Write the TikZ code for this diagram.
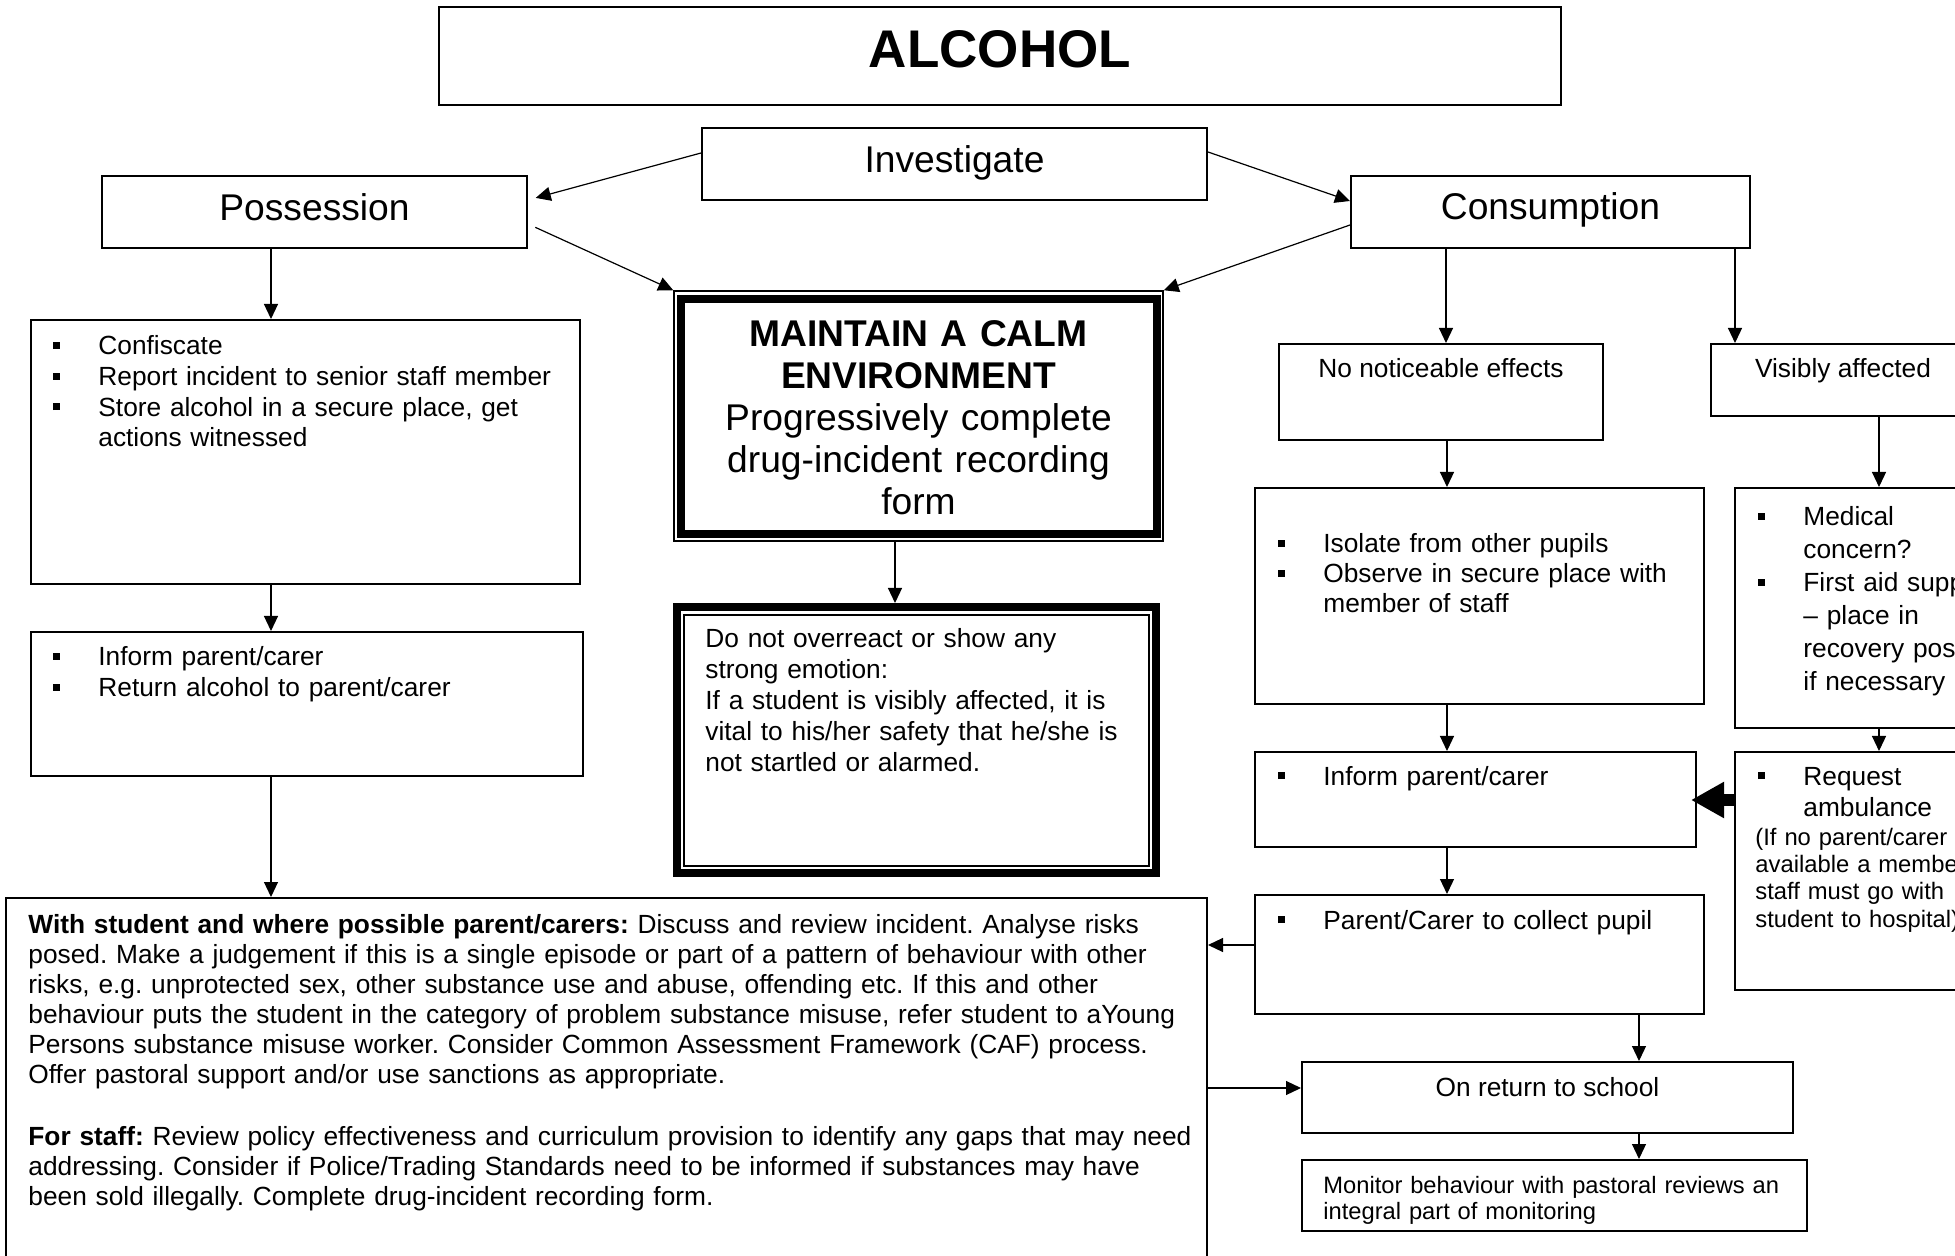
\documentclass[tikz,border=0pt]{standalone}
\usepackage{fontspec}
\setmainfont{Liberation Sans}
\usetikzlibrary{arrows.meta,fit}
\frenchspacing
\newcommand{\fsz}[2]{\fontsize{#1}{#2}\selectfont}
\newcommand{\blt}{\makebox[22.5pt][l]{\rule[3pt]{3.5pt}{3.5pt}}}
\newcommand{\bltind}{\hspace*{22.5pt}}
\begin{document}
\begin{tikzpicture}[x=0.5pt,y=-0.5pt,
	box/.style={draw,line width=1pt,inner sep=0pt},
	arr/.style={line width=0.6pt,-{Triangle[length=7.5pt,width=7pt]}},
	hd/.style={inner sep=0pt,anchor=base,font=\fsz{18.6}{21}},
	sh/.style={inner sep=0pt,anchor=base,font=\fsz{13.15}{15.3}},
	sm/.style={inner sep=0pt,anchor=base west,align=left,text width=700pt,font=\fsz{13.15}{15.3}}]
	\useasboundingbox (0,0) rectangle (1955,1256);
	\clip (0,0) rectangle (1955,1256);
	% boxes
	\node[box,fit={(439,7) (1561,105)}] (title) {};
	\node[box,fit={(702,128) (1207,200)}] (inv) {};
	\node[box,fit={(102,176) (527,248)}] (poss) {};
	\node[box,fit={(1351,176) (1750,248)}] (cons) {};
	\node[box,fit={(31,320) (580,584)}] (conf) {};
	\node[box,fit={(31,632) (583,776)}] (tellL) {};
	\node[box,fit={(6,898) (1207,1300)}] (review) {};
	\node[box,line width=0.75pt,fit={(674,291) (1163,541)}] (calm) {};
	\node[box,line width=4pt,fit={(677,607) (1156,873)}] (calmnote) {};
	\node[box,fit={(1279,344) (1603,440)}] (noeff) {};
	\node[box,fit={(1711,344) (1985,416)}] (vis) {};
	\node[box,fit={(1255,488) (1704,704)}] (isol) {};
	\node[box,fit={(1735,488) (1995,728)}] (med) {};
	\node[box,fit={(1255,752) (1696,847)}] (tellR) {};
	\node[box,fit={(1735,752) (1995,990)}] (amb) {};
	\node[box,fit={(1255,895) (1704,1014)}] (collect) {};
	\node[box,fit={(1302,1062) (1793,1133)}] (ret) {};
	\node[box,fit={(1302,1160) (1807,1231)}] (mon) {};
	\draw[line width=4pt] ([shift={(8,9)}]calm.north west) rectangle ([shift={(-7,-8)}]calm.south east);
	\draw[line width=0.75pt] ([shift={(11,12)}]calmnote.north west) rectangle ([shift={(-11,-11)}]calmnote.south east);
	% texts
	\node[inner sep=0pt,anchor=base,font=\fsz{26.5}{30}\bfseries] (titlet) at (1000,68) {ALCOHOL};
	\node[hd] (invt) at (954.5,173) {Investigate};
	\node[hd] (posst) at (314.5,221) {Possession};
	\node[hd] (const) at (1550.5,220) {Consumption};
	\node[hd,text width=240pt,align=center] (calmt) at (918.5,347) {\textbf{MAINTAIN A CALM}\\\textbf{ENVIRONMENT}\\Progressively complete\\drug-incident recording\\form};
	\node[sm] (conft) at (53,355) {\blt Confiscate\\\blt Report incident to senior staff member\\\blt Store alcohol in a secure place, get\\\bltind actions witnessed};
	\node[sm,font=\fsz{13.15}{15.5}] (tellLt) at (53,666) {\blt Inform parent/carer\\\blt Return alcohol to parent/carer};
	\node[sm,font=\fsz{13.15}{15.5}] (calmnotet) at (705,648) {Do not overreact or show any\\strong emotion:\\If a student is visibly affected, it is\\vital to his/her safety that he/she is\\not startled or alarmed.};
	\node[sm,font=\fsz{13.15}{15}] (reviewt) at (28,933) {\textbf{With student and where possible parent/carers:} Discuss and review incident. Analyse risks\\posed. Make a judgement if this is a single episode or part of a pattern of behaviour with other\\risks, e.g. unprotected sex, other substance use and abuse, offending etc. If this and other\\behaviour puts the student in the category of problem substance misuse, refer student to aYoung\\Persons substance misuse worker. Consider Common Assessment Framework (CAF) process.\\Offer pastoral support and/or use sanctions as appropriate.\\[16pt]\textbf{For staff:} Review policy effectiveness and curriculum provision to identify any gaps that may need\\addressing. Consider if Police/Trading Standards need to be informed if substances may have\\been sold illegally. Complete drug-incident recording form.};
	\node[sh] (noefft) at (1441,378) {No noticeable effects};
	\node[sh] (vist) at (1843,378) {Visibly affected};
	\node[sm,font=\fsz{13.15}{15}] (isolt) at (1278,553) {\blt Isolate from other pupils\\\blt Observe in secure place with\\\bltind member of staff};
	\node[sm,font=\fsz{13.15}{16.5}] (medt) at (1758,526) {\blt Medical\\\bltind concern?\\\blt First aid support\\\bltind \textendash{} place in\\\bltind recovery position\\\bltind if necessary};
	\node[sm] (tellRt) at (1278,785) {\blt Inform parent/carer};
	\node[sm,font=\fsz{13.15}{15.5}] (ambt) at (1758,785) {\blt Request\\\bltind ambulance};
	\node[sm,font=\fsz{11.9}{13.7}] (ambnote) at (1755,845) {(If no parent/carer is\\available a member of\\staff must go with\\student to hospital)};
	\node[sm] (collectt) at (1278,929) {\blt Parent/Carer to collect pupil};
	\node[sh] (rett) at (1547.5,1096) {On return to school};
	\begin{scope}
		\clip (mon.north west) rectangle (mon.east |- 0,1223);
		\node[sm,font=\fsz{11.85}{13}] (mont) at (1323,1193) {Monitor behaviour with pastoral reviews an\\integral part of monitoring};
	\end{scope}
	% arrows
	\draw[arr,shorten >=4pt] (inv.west |- 0,153) -- (poss.east |- 0,200);
	\draw[arr] (inv.east |- 0,152) -- (cons.west |- 0,201);
	\draw[arr,shorten <=4pt] (poss.east |- 0,224) -- (calm.north west);
	\draw[arr] (cons.west |- 0,225) -- (calm.north east);
	\draw[arr] (271,0 |- poss.south) -- (271,0 |- conf.north);
	\draw[arr] (271,0 |- conf.south) -- (271,0 |- tellL.north);
	\draw[arr] (271,0 |- tellL.south) -- (271,0 |- review.north);
	\draw[arr] (895,0 |- calm.south) -- (895,0 |- calmnote.north);
	\draw[arr] (1446,0 |- cons.south) -- (1446,0 |- noeff.north);
	\draw[arr] (1735,0 |- cons.south) -- (1735,0 |- vis.north);
	\draw[arr] (1447,0 |- noeff.south) -- (1447,0 |- isol.north);
	\draw[arr] (1879,0 |- vis.south) -- (1879,0 |- med.north);
	\draw[arr] (1447,0 |- isol.south) -- (1447,0 |- tellR.north);
	\draw[arr] (1879,0 |- med.south) -- (1879,0 |- amb.north);
	\draw[arr] (1447,0 |- tellR.south) -- (1447,0 |- collect.north);
	\draw[arr] (collect.west |- 0,945) -- (review.east |- 0,945);
	\draw[arr] (review.east |- 0,1088) -- (ret.west |- 0,1088);
	\draw[arr] (1639,0 |- collect.south) -- (1639,0 |- ret.north);
	\draw[arr] (1639,0 |- ret.south) -- (1639,0 |- mon.north);
	\draw[line width=6pt,-{Triangle[length=16.5pt,width=17pt]},shorten >=-3pt] (amb.west |- 0,800) -- (tellR.east |- 0,800);
\end{tikzpicture}
\end{document}
